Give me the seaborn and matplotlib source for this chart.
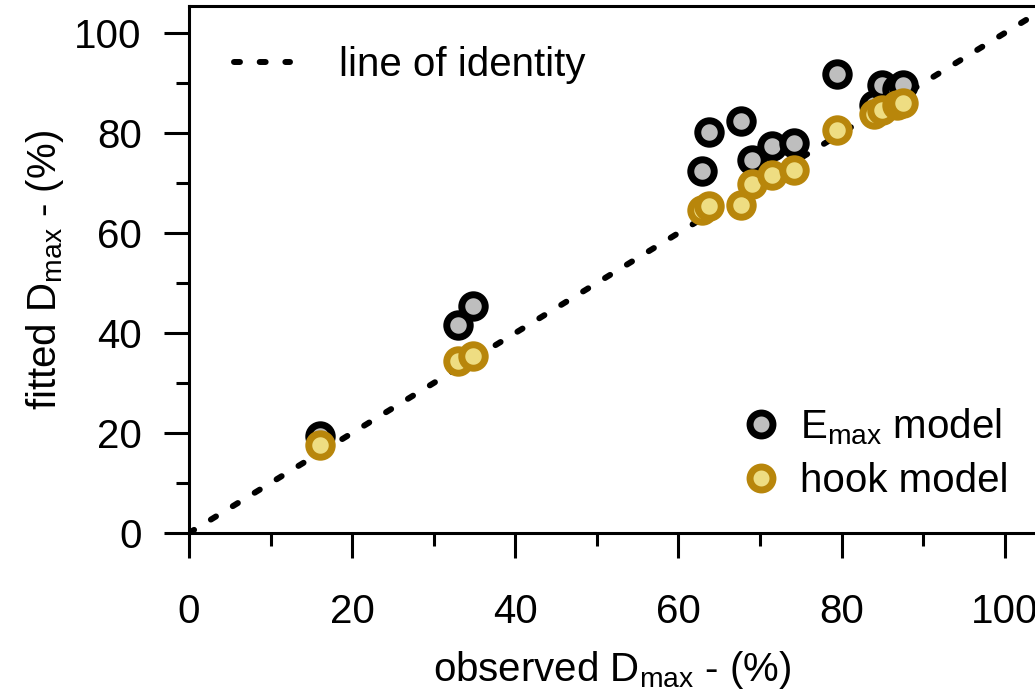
import matplotlib
matplotlib.use('Agg')
import matplotlib.pyplot as plt
import seaborn as sns
import pandas as pd
from matplotlib.lines import Line2D
from matplotlib.ticker import MultipleLocator

# observed vs fitted Dmax (%)
observed = [16.0, 33.0, 34.8, 62.9, 63.8, 67.7, 69.0, 71.5, 74.1, 79.4, 84.0, 84.9, 86.8, 87.5]
emax_fit = [19.4, 41.5, 45.3, 72.3, 80.2, 82.3, 74.5, 77.4, 77.9, 91.8, 85.6, 89.6, 88.8, 89.6]
hook_fit = [17.5, 34.3, 35.3, 64.5, 65.4, 65.6, 69.8, 71.5, 72.6, 80.6, 83.7, 84.5, 85.6, 86.0]
identity = [0, 110]

emax_label = r'E$_{\mathrm{max}}$ model'
hook_label = 'hook model'

sns.set_style('ticks')
plt.rcParams['font.family'] = ['Liberation Sans', 'DejaVu Sans']
plt.rcParams['mathtext.fontset'] = 'custom'
plt.rcParams['mathtext.rm'] = 'Liberation Sans'
plt.rcParams['mathtext.it'] = 'Liberation Sans:italic'
plt.rcParams['mathtext.bf'] = 'Liberation Sans:bold'
for key in ['text.color', 'axes.labelcolor', 'xtick.color', 'ytick.color']:
    plt.rcParams[key] = 'black'

fs = 29
grey_face, grey_edge = '#BEBEBE', 'black'
gold_face, gold_edge = '#EEDD82', '#B8860B'

df = pd.DataFrame({'observed': observed, 'emax': emax_fit, 'hook': hook_fit})

fig = plt.figure(figsize=(10.35, 6.94), dpi=100)
ax = fig.add_axes([0.1826, 0.232, 0.8174, 0.7594])

sns.lineplot(x=identity, y=identity, ax=ax, color='black', lw=4.3,
             dashes=False, zorder=1)
ax.lines[0].set_dashes((1, 3.3))
ax.lines[0].set_dash_capstyle('round')

sns.scatterplot(data=df, x='observed', y='emax', ax=ax, s=285,
                color=grey_face, edgecolor=grey_edge, linewidth=5, zorder=2)
sns.scatterplot(data=df, x='observed', y='hook', ax=ax, s=285,
                color=gold_face, edgecolor=gold_edge, linewidth=5, zorder=3)

ax.set_xlim(0, 103.7)
ax.set_ylim(0, 105.4)
ax.xaxis.set_major_locator(MultipleLocator(20))
ax.xaxis.set_minor_locator(MultipleLocator(10))
ax.yaxis.set_major_locator(MultipleLocator(20))
ax.yaxis.set_minor_locator(MultipleLocator(10))
ax.tick_params(which='major', length=18, width=2.2, labelsize=fs, color='black')
ax.tick_params(which='minor', length=9.5, width=2.2, color='black')
ax.tick_params(axis='x', which='major', pad=25)
ax.tick_params(axis='y', which='major', pad=16)
for side in ['left', 'bottom', 'top']:
    ax.spines[side].set_linewidth(2.2)
    ax.spines[side].set_color('black')
ax.spines['right'].set_visible(False)

ax.set_xlabel(r'observed D$_{\mathrm{max}}$ - (%)', fontsize=fs, labelpad=13)
ax.set_ylabel(r'fitted D$_{\mathrm{max}}$ - (%)', fontsize=fs, labelpad=6)

# legend for the identity line
line_handle = Line2D([], [], color='black', lw=4.3, dashes=(1, 3.3),
                     dash_capstyle='round')
leg1 = ax.legend([line_handle], ['line of identity'], loc='center left',
                 bbox_to_anchor=(5.5, 93.6), bbox_transform=ax.transData,
                 frameon=False, fontsize=fs, handlelength=1.4,
                 handletextpad=1.2, borderpad=0, borderaxespad=0)
ax.add_artist(leg1)

# legend for the two models
h_emax = Line2D([], [], ls='none', marker='o', ms=16.5, mew=5,
                mfc=grey_face, mec=grey_edge)
h_hook = Line2D([], [], ls='none', marker='o', ms=16.5, mew=5,
                mfc=gold_face, mec=gold_edge)
ax.legend([h_emax, h_hook], [emax_label, hook_label], loc='center left',
          bbox_to_anchor=(68.2, 16.0), bbox_transform=ax.transData,
          frameon=False, fontsize=fs, handlelength=0.8, handletextpad=0.55,
          labelspacing=0.38, borderpad=0, borderaxespad=0)

fig.savefig('out.png', dpi=100)
